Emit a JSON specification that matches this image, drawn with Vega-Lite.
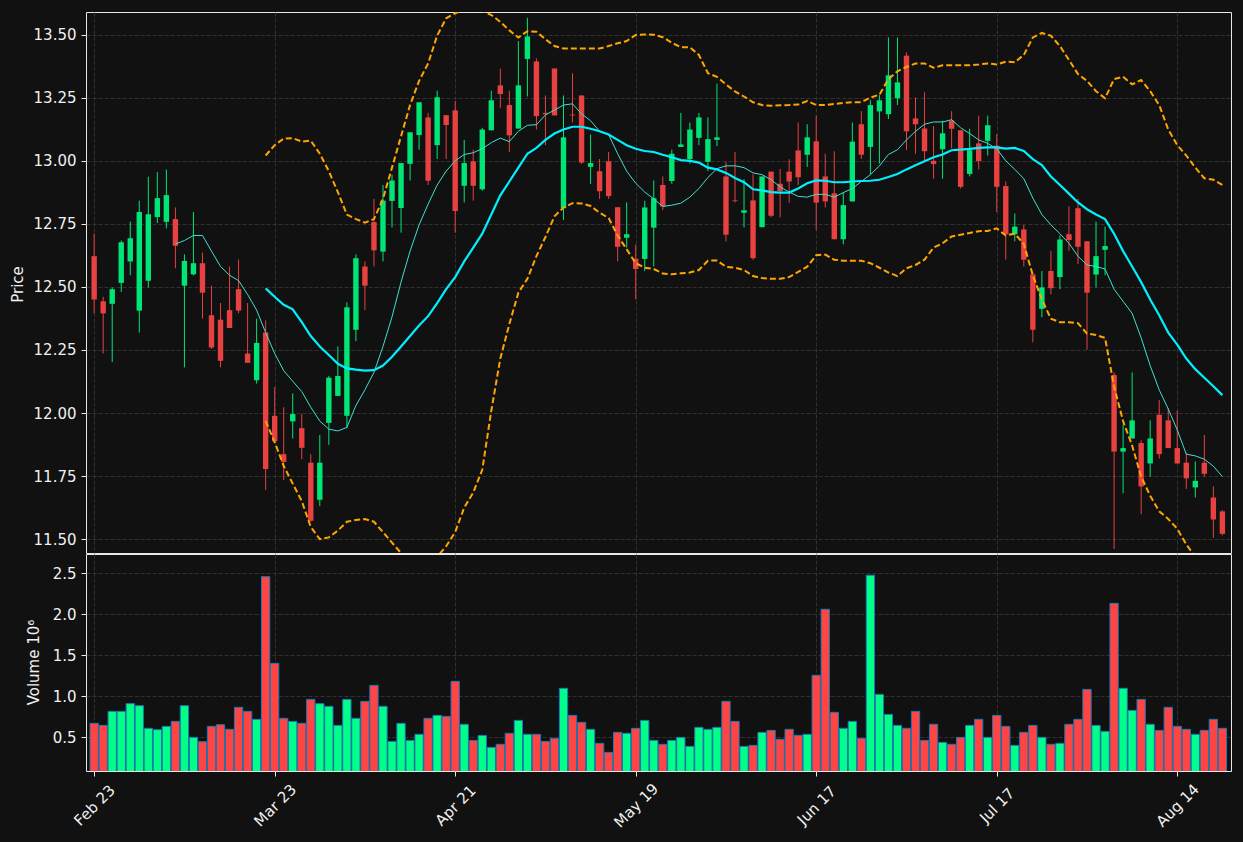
{
  "$schema": "https://vega.github.io/schema/vega-lite/v6.json",
  "background": "#111111",
  "padding": {"left": 9, "top": 11, "right": 11, "bottom": 16},
  "spacing": -3,
  "data": {
    "values": [
      {"i": 0, "o": 12.622, "h": 12.711, "l": 12.395, "c": 12.450, "v": 0.671},
      {"i": 1, "o": 12.443, "h": 12.461, "l": 12.236, "c": 12.395, "v": 0.646},
      {"i": 2, "o": 12.433, "h": 12.498, "l": 12.202, "c": 12.491, "v": 0.817},
      {"i": 3, "o": 12.516, "h": 12.684, "l": 12.480, "c": 12.677, "v": 0.817},
      {"i": 4, "o": 12.601, "h": 12.759, "l": 12.546, "c": 12.693, "v": 0.911},
      {"i": 5, "o": 12.406, "h": 12.842, "l": 12.319, "c": 12.797, "v": 0.886},
      {"i": 6, "o": 12.524, "h": 12.937, "l": 12.498, "c": 12.788, "v": 0.610},
      {"i": 7, "o": 12.777, "h": 12.955, "l": 12.753, "c": 12.852, "v": 0.593},
      {"i": 8, "o": 12.758, "h": 12.965, "l": 12.732, "c": 12.864, "v": 0.634},
      {"i": 9, "o": 12.769, "h": 12.815, "l": 12.574, "c": 12.663, "v": 0.695, "m10": 12.670},
      {"i": 10, "o": 12.505, "h": 12.629, "l": 12.181, "c": 12.603, "v": 0.886, "m10": 12.684},
      {"i": 11, "o": 12.550, "h": 12.797, "l": 12.546, "c": 12.594, "v": 0.500, "m10": 12.704},
      {"i": 12, "o": 12.594, "h": 12.636, "l": 12.374, "c": 12.477, "v": 0.447, "m10": 12.704},
      {"i": 13, "o": 12.388, "h": 12.505, "l": 12.254, "c": 12.260, "v": 0.634, "m10": 12.642},
      {"i": 14, "o": 12.370, "h": 12.436, "l": 12.181, "c": 12.207, "v": 0.654, "m10": 12.581},
      {"i": 15, "o": 12.408, "h": 12.581, "l": 12.337, "c": 12.337, "v": 0.598, "m10": 12.546},
      {"i": 16, "o": 12.491, "h": 12.608, "l": 12.395, "c": 12.406, "v": 0.866, "m10": 12.525},
      {"i": 17, "o": 12.236, "h": 12.436, "l": 12.199, "c": 12.199, "v": 0.817, "m10": 12.470},
      {"i": 18, "o": 12.130, "h": 12.374, "l": 12.117, "c": 12.278, "v": 0.720, "m10": 12.408},
      {"i": 19, "o": 12.319, "h": 12.367, "l": 11.695, "c": 11.778, "v": 2.459, "m10": 12.319, "m20": 12.494, "bu": 13.021, "bl": 11.968},
      {"i": 20, "o": 11.989, "h": 12.103, "l": 11.888, "c": 11.888, "v": 1.402, "m10": 12.236, "m20": 12.461, "bu": 13.062, "bl": 11.885},
      {"i": 21, "o": 11.837, "h": 12.023, "l": 11.734, "c": 11.806, "v": 0.732, "m10": 12.168, "m20": 12.429, "bu": 13.088, "bl": 11.790},
      {"i": 22, "o": 11.967, "h": 12.078, "l": 11.899, "c": 11.996, "v": 0.695, "m10": 12.126, "m20": 12.411, "bu": 13.090, "bl": 11.720},
      {"i": 23, "o": 11.940, "h": 11.996, "l": 11.817, "c": 11.862, "v": 0.671, "m10": 12.085, "m20": 12.360, "bu": 13.076, "bl": 11.651},
      {"i": 24, "o": 11.803, "h": 11.837, "l": 11.569, "c": 11.573, "v": 0.963, "m10": 12.023, "m20": 12.305, "bu": 13.080, "bl": 11.548},
      {"i": 25, "o": 11.656, "h": 11.913, "l": 11.631, "c": 11.803, "v": 0.911, "m10": 11.968, "m20": 12.264, "bu": 13.028, "bl": 11.500},
      {"i": 26, "o": 11.961, "h": 12.147, "l": 11.874, "c": 12.140, "v": 0.878, "m10": 11.936, "m20": 12.230, "bu": 12.959, "bl": 11.507},
      {"i": 27, "o": 12.068, "h": 12.264, "l": 12.068, "c": 12.147, "v": 0.646, "m10": 11.929, "m20": 12.195, "bu": 12.876, "bl": 11.534},
      {"i": 28, "o": 11.989, "h": 12.439, "l": 11.940, "c": 12.419, "v": 0.963, "m10": 11.943, "m20": 12.177, "bu": 12.787, "bl": 11.569},
      {"i": 29, "o": 12.330, "h": 12.629, "l": 12.285, "c": 12.614, "v": 0.732, "m10": 12.030, "m20": 12.172, "bu": 12.769, "bl": 11.576},
      {"i": 30, "o": 12.581, "h": 12.601, "l": 12.408, "c": 12.505, "v": 0.939, "m10": 12.092, "m20": 12.168, "bu": 12.755, "bl": 11.580},
      {"i": 31, "o": 12.757, "h": 12.849, "l": 12.581, "c": 12.645, "v": 1.134, "m10": 12.161, "m20": 12.170, "bu": 12.769, "bl": 11.569},
      {"i": 32, "o": 12.640, "h": 12.904, "l": 12.601, "c": 12.842, "v": 0.878, "m10": 12.264, "m20": 12.188, "bu": 12.849, "bl": 11.528},
      {"i": 33, "o": 12.841, "h": 12.945, "l": 12.736, "c": 12.922, "v": 0.451, "m10": 12.381, "m20": 12.223, "bu": 12.973, "bl": 11.486},
      {"i": 34, "o": 12.813, "h": 12.991, "l": 12.715, "c": 12.991, "v": 0.671, "m10": 12.519, "m20": 12.264, "bu": 13.097, "bl": 11.445},
      {"i": 35, "o": 12.988, "h": 13.113, "l": 12.922, "c": 13.113, "v": 0.463, "m10": 12.642, "m20": 12.305, "bu": 13.221, "bl": 11.400},
      {"i": 36, "o": 13.102, "h": 13.232, "l": 13.044, "c": 13.232, "v": 0.537, "m10": 12.746, "m20": 12.347, "bu": 13.317, "bl": 11.370},
      {"i": 37, "o": 13.172, "h": 13.190, "l": 12.904, "c": 12.921, "v": 0.732, "m10": 12.828, "m20": 12.384, "bu": 13.386, "bl": 11.380},
      {"i": 38, "o": 13.062, "h": 13.278, "l": 13.007, "c": 13.252, "v": 0.768, "m10": 12.904, "m20": 12.436, "bu": 13.496, "bl": 11.430},
      {"i": 39, "o": 13.181, "h": 13.181, "l": 13.007, "c": 13.142, "v": 0.756, "m10": 12.959, "m20": 12.491, "bu": 13.565, "bl": 11.472},
      {"i": 40, "o": 13.200, "h": 13.237, "l": 12.715, "c": 12.801, "v": 1.183, "m10": 13.000, "m20": 12.539, "bu": 13.585, "bl": 11.528},
      {"i": 41, "o": 12.901, "h": 13.083, "l": 12.835, "c": 12.991, "v": 0.659, "m10": 13.025, "m20": 12.601, "bu": 13.600, "bl": 11.625},
      {"i": 42, "o": 12.998, "h": 13.044, "l": 12.842, "c": 12.901, "v": 0.463, "m10": 13.032, "m20": 12.656, "bu": 13.600, "bl": 11.685},
      {"i": 43, "o": 12.887, "h": 13.131, "l": 12.881, "c": 13.124, "v": 0.524, "m10": 13.048, "m20": 12.711, "bu": 13.595, "bl": 11.775},
      {"i": 44, "o": 13.121, "h": 13.278, "l": 13.121, "c": 13.240, "v": 0.378, "m10": 13.072, "m20": 12.787, "bu": 13.578, "bl": 12.009},
      {"i": 45, "o": 13.299, "h": 13.365, "l": 13.210, "c": 13.265, "v": 0.415, "m10": 13.090, "m20": 12.863, "bu": 13.551, "bl": 12.216},
      {"i": 46, "o": 13.221, "h": 13.278, "l": 13.035, "c": 13.101, "v": 0.549, "m10": 13.076, "m20": 12.918, "bu": 13.517, "bl": 12.353},
      {"i": 47, "o": 13.128, "h": 13.475, "l": 13.128, "c": 13.299, "v": 0.707, "m10": 13.117, "m20": 12.973, "bu": 13.489, "bl": 12.477},
      {"i": 48, "o": 13.404, "h": 13.567, "l": 13.255, "c": 13.493, "v": 0.537, "m10": 13.141, "m20": 13.028, "bu": 13.514, "bl": 12.532},
      {"i": 49, "o": 13.394, "h": 13.406, "l": 13.124, "c": 13.177, "v": 0.537, "m10": 13.143, "m20": 13.051, "bu": 13.512, "bl": 12.622},
      {"i": 50, "o": 13.190, "h": 13.259, "l": 13.062, "c": 13.185, "v": 0.451, "m10": 13.182, "m20": 13.083, "bu": 13.482, "bl": 12.698},
      {"i": 51, "o": 13.366, "h": 13.366, "l": 13.180, "c": 13.180, "v": 0.488, "m10": 13.201, "m20": 13.108, "bu": 13.455, "bl": 12.780},
      {"i": 52, "o": 12.812, "h": 13.259, "l": 12.766, "c": 13.093, "v": 1.098, "m10": 13.221, "m20": 13.124, "bu": 13.445, "bl": 12.815},
      {"i": 53, "o": 13.183, "h": 13.347, "l": 13.152, "c": 13.180, "v": 0.768, "m10": 13.226, "m20": 13.135, "bu": 13.445, "bl": 12.832},
      {"i": 54, "o": 13.259, "h": 13.259, "l": 12.987, "c": 12.993, "v": 0.683, "m10": 13.186, "m20": 13.135, "bu": 13.445, "bl": 12.831},
      {"i": 55, "o": 12.976, "h": 13.104, "l": 12.908, "c": 12.991, "v": 0.598, "m10": 13.159, "m20": 13.127, "bu": 13.445, "bl": 12.821},
      {"i": 56, "o": 12.959, "h": 13.007, "l": 12.849, "c": 12.879, "v": 0.427, "m10": 13.117, "m20": 13.117, "bu": 13.445, "bl": 12.794},
      {"i": 57, "o": 12.998, "h": 13.035, "l": 12.849, "c": 12.860, "v": 0.317, "m10": 13.104, "m20": 13.104, "bu": 13.455, "bl": 12.773},
      {"i": 58, "o": 12.816, "h": 12.816, "l": 12.601, "c": 12.659, "v": 0.561, "m10": 13.028, "m20": 13.083, "bu": 13.466, "bl": 12.704},
      {"i": 59, "o": 12.695, "h": 12.835, "l": 12.656, "c": 12.709, "v": 0.549, "m10": 12.959, "m20": 13.062, "bu": 13.475, "bl": 12.649},
      {"i": 60, "o": 12.612, "h": 12.667, "l": 12.450, "c": 12.571, "v": 0.610, "m10": 12.911, "m20": 13.048, "bu": 13.499, "bl": 12.594},
      {"i": 61, "o": 12.611, "h": 12.842, "l": 12.563, "c": 12.815, "v": 0.707, "m10": 12.876, "m20": 13.039, "bu": 13.501, "bl": 12.576},
      {"i": 62, "o": 12.735, "h": 12.922, "l": 12.581, "c": 12.852, "v": 0.463, "m10": 12.849, "m20": 13.035, "bu": 13.500, "bl": 12.571},
      {"i": 63, "o": 12.904, "h": 12.938, "l": 12.805, "c": 12.819, "v": 0.415, "m10": 12.819, "m20": 13.024, "bu": 13.490, "bl": 12.553},
      {"i": 64, "o": 12.920, "h": 13.044, "l": 12.909, "c": 13.028, "v": 0.463, "m10": 12.824, "m20": 13.014, "bu": 13.468, "bl": 12.550},
      {"i": 65, "o": 13.055, "h": 13.190, "l": 13.055, "c": 13.065, "v": 0.500, "m10": 12.832, "m20": 13.003, "bu": 13.450, "bl": 12.554},
      {"i": 66, "o": 13.007, "h": 13.152, "l": 12.989, "c": 13.124, "v": 0.390, "m10": 12.856, "m20": 13.000, "bu": 13.450, "bl": 12.557},
      {"i": 67, "o": 13.091, "h": 13.190, "l": 13.062, "c": 13.172, "v": 0.622, "m10": 12.890, "m20": 12.993, "bu": 13.420, "bl": 12.567},
      {"i": 68, "o": 12.996, "h": 13.172, "l": 12.959, "c": 13.086, "v": 0.598, "m10": 12.934, "m20": 12.973, "bu": 13.347, "bl": 12.604},
      {"i": 69, "o": 13.083, "h": 13.306, "l": 13.058, "c": 13.093, "v": 0.622, "m10": 12.969, "m20": 12.966, "bu": 13.333, "bl": 12.605},
      {"i": 70, "o": 12.938, "h": 12.996, "l": 12.680, "c": 12.707, "v": 0.939, "m10": 12.980, "m20": 12.952, "bu": 13.303, "bl": 12.580},
      {"i": 71, "o": 12.843, "h": 13.035, "l": 12.835, "c": 12.840, "v": 0.695, "m10": 12.980, "m20": 12.932, "bu": 13.275, "bl": 12.576},
      {"i": 72, "o": 12.794, "h": 12.927, "l": 12.736, "c": 12.804, "v": 0.390, "m10": 12.973, "m20": 12.915, "bu": 13.255, "bl": 12.567},
      {"i": 73, "o": 12.843, "h": 12.947, "l": 12.607, "c": 12.614, "v": 0.402, "m10": 12.952, "m20": 12.887, "bu": 13.232, "bl": 12.543},
      {"i": 74, "o": 12.737, "h": 12.938, "l": 12.737, "c": 12.938, "v": 0.561, "m10": 12.945, "m20": 12.883, "bu": 13.221, "bl": 12.535},
      {"i": 75, "o": 12.957, "h": 12.957, "l": 12.776, "c": 12.782, "v": 0.585, "m10": 12.925, "m20": 12.876, "bu": 13.218, "bl": 12.532},
      {"i": 76, "o": 12.909, "h": 12.968, "l": 12.776, "c": 12.880, "v": 0.476, "m10": 12.897, "m20": 12.874, "bu": 13.220, "bl": 12.532},
      {"i": 77, "o": 12.957, "h": 13.006, "l": 12.834, "c": 12.918, "v": 0.598, "m10": 12.876, "m20": 12.874, "bu": 13.221, "bl": 12.539},
      {"i": 78, "o": 13.041, "h": 13.152, "l": 12.904, "c": 12.935, "v": 0.524, "m10": 12.859, "m20": 12.890, "bu": 13.223, "bl": 12.560},
      {"i": 79, "o": 13.024, "h": 13.145, "l": 12.976, "c": 13.093, "v": 0.537, "m10": 12.856, "m20": 12.911, "bu": 13.237, "bl": 12.580},
      {"i": 80, "o": 13.077, "h": 13.179, "l": 12.725, "c": 12.834, "v": 1.256, "m10": 12.867, "m20": 12.922, "bu": 13.221, "bl": 12.626},
      {"i": 81, "o": 12.938, "h": 13.028, "l": 12.815, "c": 12.839, "v": 2.061, "m10": 12.867, "m20": 12.921, "bu": 13.221, "bl": 12.628},
      {"i": 82, "o": 12.871, "h": 13.038, "l": 12.689, "c": 12.689, "v": 0.805, "m10": 12.856, "m20": 12.915, "bu": 13.225, "bl": 12.608},
      {"i": 83, "o": 12.689, "h": 12.876, "l": 12.669, "c": 12.824, "v": 0.610, "m10": 12.874, "m20": 12.915, "bu": 13.229, "bl": 12.604},
      {"i": 84, "o": 12.839, "h": 13.152, "l": 12.839, "c": 13.076, "v": 0.695, "m10": 12.890, "m20": 12.918, "bu": 13.232, "bl": 12.604},
      {"i": 85, "o": 13.145, "h": 13.197, "l": 13.007, "c": 13.024, "v": 0.488, "m10": 12.918, "m20": 12.920, "bu": 13.232, "bl": 12.604},
      {"i": 86, "o": 13.055, "h": 13.241, "l": 12.945, "c": 13.221, "v": 2.476, "m10": 12.945, "m20": 12.921, "bu": 13.251, "bl": 12.594},
      {"i": 87, "o": 13.196, "h": 13.262, "l": 12.989, "c": 13.240, "v": 1.024, "m10": 12.980, "m20": 12.925, "bu": 13.262, "bl": 12.576},
      {"i": 88, "o": 13.185, "h": 13.489, "l": 13.166, "c": 13.339, "v": 0.780, "m10": 13.025, "m20": 12.936, "bu": 13.324, "bl": 12.557},
      {"i": 89, "o": 13.248, "h": 13.489, "l": 13.221, "c": 13.311, "v": 0.646, "m10": 13.044, "m20": 12.948, "bu": 13.355, "bl": 12.543},
      {"i": 90, "o": 13.417, "h": 13.430, "l": 13.042, "c": 13.117, "v": 0.610, "m10": 13.083, "m20": 12.966, "bu": 13.372, "bl": 12.574},
      {"i": 91, "o": 13.168, "h": 13.251, "l": 13.028, "c": 13.145, "v": 0.817, "m10": 13.117, "m20": 12.982, "bu": 13.386, "bl": 12.587},
      {"i": 92, "o": 13.128, "h": 13.272, "l": 13.000, "c": 13.038, "v": 0.463, "m10": 13.145, "m20": 12.998, "bu": 13.386, "bl": 12.608},
      {"i": 93, "o": 13.000, "h": 13.138, "l": 12.929, "c": 12.987, "v": 0.659, "m10": 13.154, "m20": 13.014, "bu": 13.369, "bl": 12.656},
      {"i": 94, "o": 13.046, "h": 13.159, "l": 12.929, "c": 13.109, "v": 0.439, "m10": 13.154, "m20": 13.025, "bu": 13.379, "bl": 12.673},
      {"i": 95, "o": 13.159, "h": 13.197, "l": 13.049, "c": 13.127, "v": 0.415, "m10": 13.163, "m20": 13.042, "bu": 13.379, "bl": 12.700},
      {"i": 96, "o": 13.121, "h": 13.121, "l": 12.890, "c": 12.897, "v": 0.500, "m10": 13.131, "m20": 13.044, "bu": 13.379, "bl": 12.707},
      {"i": 97, "o": 12.948, "h": 13.127, "l": 12.938, "c": 13.042, "v": 0.646, "m10": 13.108, "m20": 13.047, "bu": 13.379, "bl": 12.714},
      {"i": 98, "o": 13.069, "h": 13.179, "l": 12.966, "c": 12.999, "v": 0.720, "m10": 13.083, "m20": 13.051, "bu": 13.382, "bl": 12.721},
      {"i": 99, "o": 13.079, "h": 13.179, "l": 13.021, "c": 13.141, "v": 0.500, "m10": 13.069, "m20": 13.053, "bu": 13.386, "bl": 12.722},
      {"i": 100, "o": 13.060, "h": 13.106, "l": 12.797, "c": 12.897, "v": 0.768, "m10": 13.048, "m20": 13.053, "bu": 13.382, "bl": 12.732},
      {"i": 101, "o": 12.900, "h": 12.918, "l": 12.608, "c": 12.709, "v": 0.634, "m10": 13.000, "m20": 13.048, "bu": 13.393, "bl": 12.704},
      {"i": 102, "o": 12.709, "h": 12.791, "l": 12.681, "c": 12.739, "v": 0.402, "m10": 12.966, "m20": 13.051, "bu": 13.391, "bl": 12.711},
      {"i": 103, "o": 12.728, "h": 12.746, "l": 12.581, "c": 12.608, "v": 0.561, "m10": 12.929, "m20": 13.039, "bu": 13.420, "bl": 12.670},
      {"i": 104, "o": 12.550, "h": 12.550, "l": 12.280, "c": 12.330, "v": 0.646, "m10": 12.852, "m20": 13.007, "bu": 13.489, "bl": 12.546},
      {"i": 105, "o": 12.413, "h": 12.563, "l": 12.380, "c": 12.498, "v": 0.500, "m10": 12.787, "m20": 12.983, "bu": 13.507, "bl": 12.450},
      {"i": 106, "o": 12.563, "h": 12.643, "l": 12.470, "c": 12.495, "v": 0.415, "m10": 12.746, "m20": 12.938, "bu": 13.496, "bl": 12.374},
      {"i": 107, "o": 12.539, "h": 12.704, "l": 12.491, "c": 12.688, "v": 0.427, "m10": 12.711, "m20": 12.904, "bu": 13.455, "bl": 12.360},
      {"i": 108, "o": 12.709, "h": 12.819, "l": 12.643, "c": 12.686, "v": 0.659, "m10": 12.673, "m20": 12.870, "bu": 13.400, "bl": 12.360},
      {"i": 109, "o": 12.812, "h": 12.849, "l": 12.590, "c": 12.659, "v": 0.720, "m10": 12.622, "m20": 12.835, "bu": 13.344, "bl": 12.356},
      {"i": 110, "o": 12.681, "h": 12.681, "l": 12.250, "c": 12.477, "v": 1.085, "m10": 12.587, "m20": 12.808, "bu": 13.317, "bl": 12.315},
      {"i": 111, "o": 12.549, "h": 12.759, "l": 12.498, "c": 12.622, "v": 0.646, "m10": 12.581, "m20": 12.787, "bu": 13.276, "bl": 12.309},
      {"i": 112, "o": 12.647, "h": 12.739, "l": 12.546, "c": 12.662, "v": 0.573, "m10": 12.571, "m20": 12.769, "bu": 13.248, "bl": 12.298},
      {"i": 113, "o": 12.151, "h": 12.161, "l": 11.461, "c": 11.847, "v": 2.134, "m10": 12.491, "m20": 12.711, "bu": 13.324, "bl": 12.105},
      {"i": 114, "o": 11.847, "h": 11.954, "l": 11.682, "c": 11.861, "v": 1.098, "m10": 12.443, "m20": 12.642, "bu": 13.333, "bl": 11.968},
      {"i": 115, "o": 11.899, "h": 12.161, "l": 11.899, "c": 11.971, "v": 0.829, "m10": 12.395, "m20": 12.581, "bu": 13.303, "bl": 11.871},
      {"i": 116, "o": 11.881, "h": 11.892, "l": 11.599, "c": 11.709, "v": 0.963, "m10": 12.298, "m20": 12.519, "bu": 13.320, "bl": 11.748},
      {"i": 117, "o": 11.800, "h": 11.971, "l": 11.748, "c": 11.899, "v": 0.659, "m10": 12.188, "m20": 12.450, "bu": 13.276, "bl": 11.672},
      {"i": 118, "o": 11.993, "h": 12.051, "l": 11.819, "c": 11.837, "v": 0.585, "m10": 12.092, "m20": 12.388, "bu": 13.221, "bl": 11.610},
      {"i": 119, "o": 11.971, "h": 12.020, "l": 11.861, "c": 11.861, "v": 0.866, "m10": 12.016, "m20": 12.319, "bu": 13.124, "bl": 11.580},
      {"i": 120, "o": 11.861, "h": 12.009, "l": 11.800, "c": 11.800, "v": 0.634, "m10": 11.933, "m20": 12.271, "bu": 13.062, "bl": 11.541},
      {"i": 121, "o": 11.803, "h": 11.841, "l": 11.699, "c": 11.741, "v": 0.598, "m10": 11.837, "m20": 12.216, "bu": 13.021, "bl": 11.479},
      {"i": 122, "o": 11.705, "h": 11.808, "l": 11.665, "c": 11.731, "v": 0.537, "m10": 11.830, "m20": 12.174, "bu": 12.973, "bl": 11.430},
      {"i": 123, "o": 11.803, "h": 11.913, "l": 11.748, "c": 11.759, "v": 0.585, "m10": 11.817, "m20": 12.140, "bu": 12.931, "bl": 11.400},
      {"i": 124, "o": 11.665, "h": 11.709, "l": 11.505, "c": 11.578, "v": 0.720, "m10": 11.789, "m20": 12.106, "bu": 12.925, "bl": 11.380},
      {"i": 125, "o": 11.610, "h": 11.615, "l": 11.515, "c": 11.521, "v": 0.610, "m10": 11.748, "m20": 12.071, "bu": 12.904, "bl": 11.360}
    ]
  },
  "vconcat": [
    {
      "width": 1145,
      "height": 541,
      "encoding": {
        "x": {
          "field": "i",
          "type": "quantitative",
          "scale": {"domain": [-0.35, 125.4], "nice": false, "zero": false},
          "axis": {"values": [0, 20, 40, 60, 80, 100, 120], "labels": false, "ticks": false, "domain": false, "title": null, "minExtent": 0, "maxExtent": 0}
        }
      },
      "layer": [
        {
          "mark": {"type": "rule", "strokeWidth": 1, "clip": true},
          "encoding": {
            "y": {
              "field": "l",
              "type": "quantitative",
              "scale": {"domain": [11.445, 13.59], "nice": false, "zero": false},
              "axis": {
                "title": "Price",
                "values": [11.5, 11.75, 12, 12.25, 12.5, 12.75, 13, 13.25, 13.5],
                "format": ".2f",
                "titleX": -69,
                "titleY": 272,
                "titleBaseline": "middle"
              }
            },
            "y2": {"field": "h"},
            "color": {"condition": {"test": "datum.c >= datum.o", "value": "#00e676"}, "value": "#e84141"}
          }
        },
        {
          "mark": {"type": "bar", "width": 5.4, "clip": true},
          "encoding": {
            "y": {"field": "o", "type": "quantitative"},
            "y2": {"field": "c"},
            "color": {"condition": {"test": "datum.c >= datum.o", "value": "#00e676"}, "value": "#e84141"}
          }
        },
        {
          "mark": {"type": "line", "color": "#40e0d0", "strokeWidth": 1, "clip": true},
          "encoding": {"y": {"field": "m10", "type": "quantitative"}}
        },
        {
          "mark": {"type": "line", "color": "#00f0ff", "strokeWidth": 2.2, "clip": true},
          "encoding": {"y": {"field": "m20", "type": "quantitative"}}
        },
        {
          "mark": {"type": "line", "color": "#ffa500", "strokeWidth": 2, "strokeDash": [6, 3], "clip": true},
          "encoding": {"y": {"field": "bu", "type": "quantitative"}}
        },
        {
          "mark": {"type": "line", "color": "#ffa500", "strokeWidth": 2, "strokeDash": [6, 3], "clip": true},
          "encoding": {"y": {"field": "bl", "type": "quantitative"}}
        }
      ]
    },
    {
      "width": 1145,
      "height": 217,
      "mark": {"type": "bar", "width": 8.3, "stroke": "#1f77b4", "strokeWidth": 1, "clip": true},
      "encoding": {
        "x": {
          "field": "i",
          "type": "quantitative",
          "scale": {"domain": [-0.35, 125.4], "nice": false, "zero": false},
          "axis": {
            "values": [0, 20, 40, 60, 80, 100, 120],
            "labelExpr": "['Feb 23','Mar 23','Apr 21','May 19','Jun 17','Jul 17','Aug 14'][round(datum.value / 20)]",
            "labelAngle": -45,
            "labelAlign": "center",
            "labelBaseline": "middle",
            "labelPadding": 29,
            "labelFlush": false,
            "title": null
          }
        },
        "y": {
          "field": "v",
          "type": "quantitative",
          "scale": {"domain": [0.09, 2.735], "nice": false, "zero": false},
          "axis": {
            "title": "Volume  10⁶",
            "values": [0.5, 1, 1.5, 2, 2.5],
            "format": ".1f",
            "titleX": -53,
            "titleY": 108,
            "titleBaseline": "middle"
          }
        },
        "y2": {"datum": 0},
        "color": {"condition": {"test": "datum.c >= datum.o", "value": "#00ff88"}, "value": "#ff4444"}
      }
    }
  ],
  "config": {
    "font": "DejaVu Sans",
    "view": {"stroke": "#e8e8e8", "strokeWidth": 1},
    "axis": {
      "domain": false,
      "grid": true,
      "gridColor": "#3a3a3a",
      "gridWidth": 0.8,
      "gridDash": [4, 2],
      "tickColor": "#e8e8e8",
      "tickSize": 5,
      "labelColor": "#f0f0f0",
      "labelFontSize": 15,
      "labelPadding": 5,
      "labelOverlap": false,
      "titleColor": "#f0f0f0",
      "titleFontSize": 15,
      "titleFontWeight": "normal"
    }
  }
}
